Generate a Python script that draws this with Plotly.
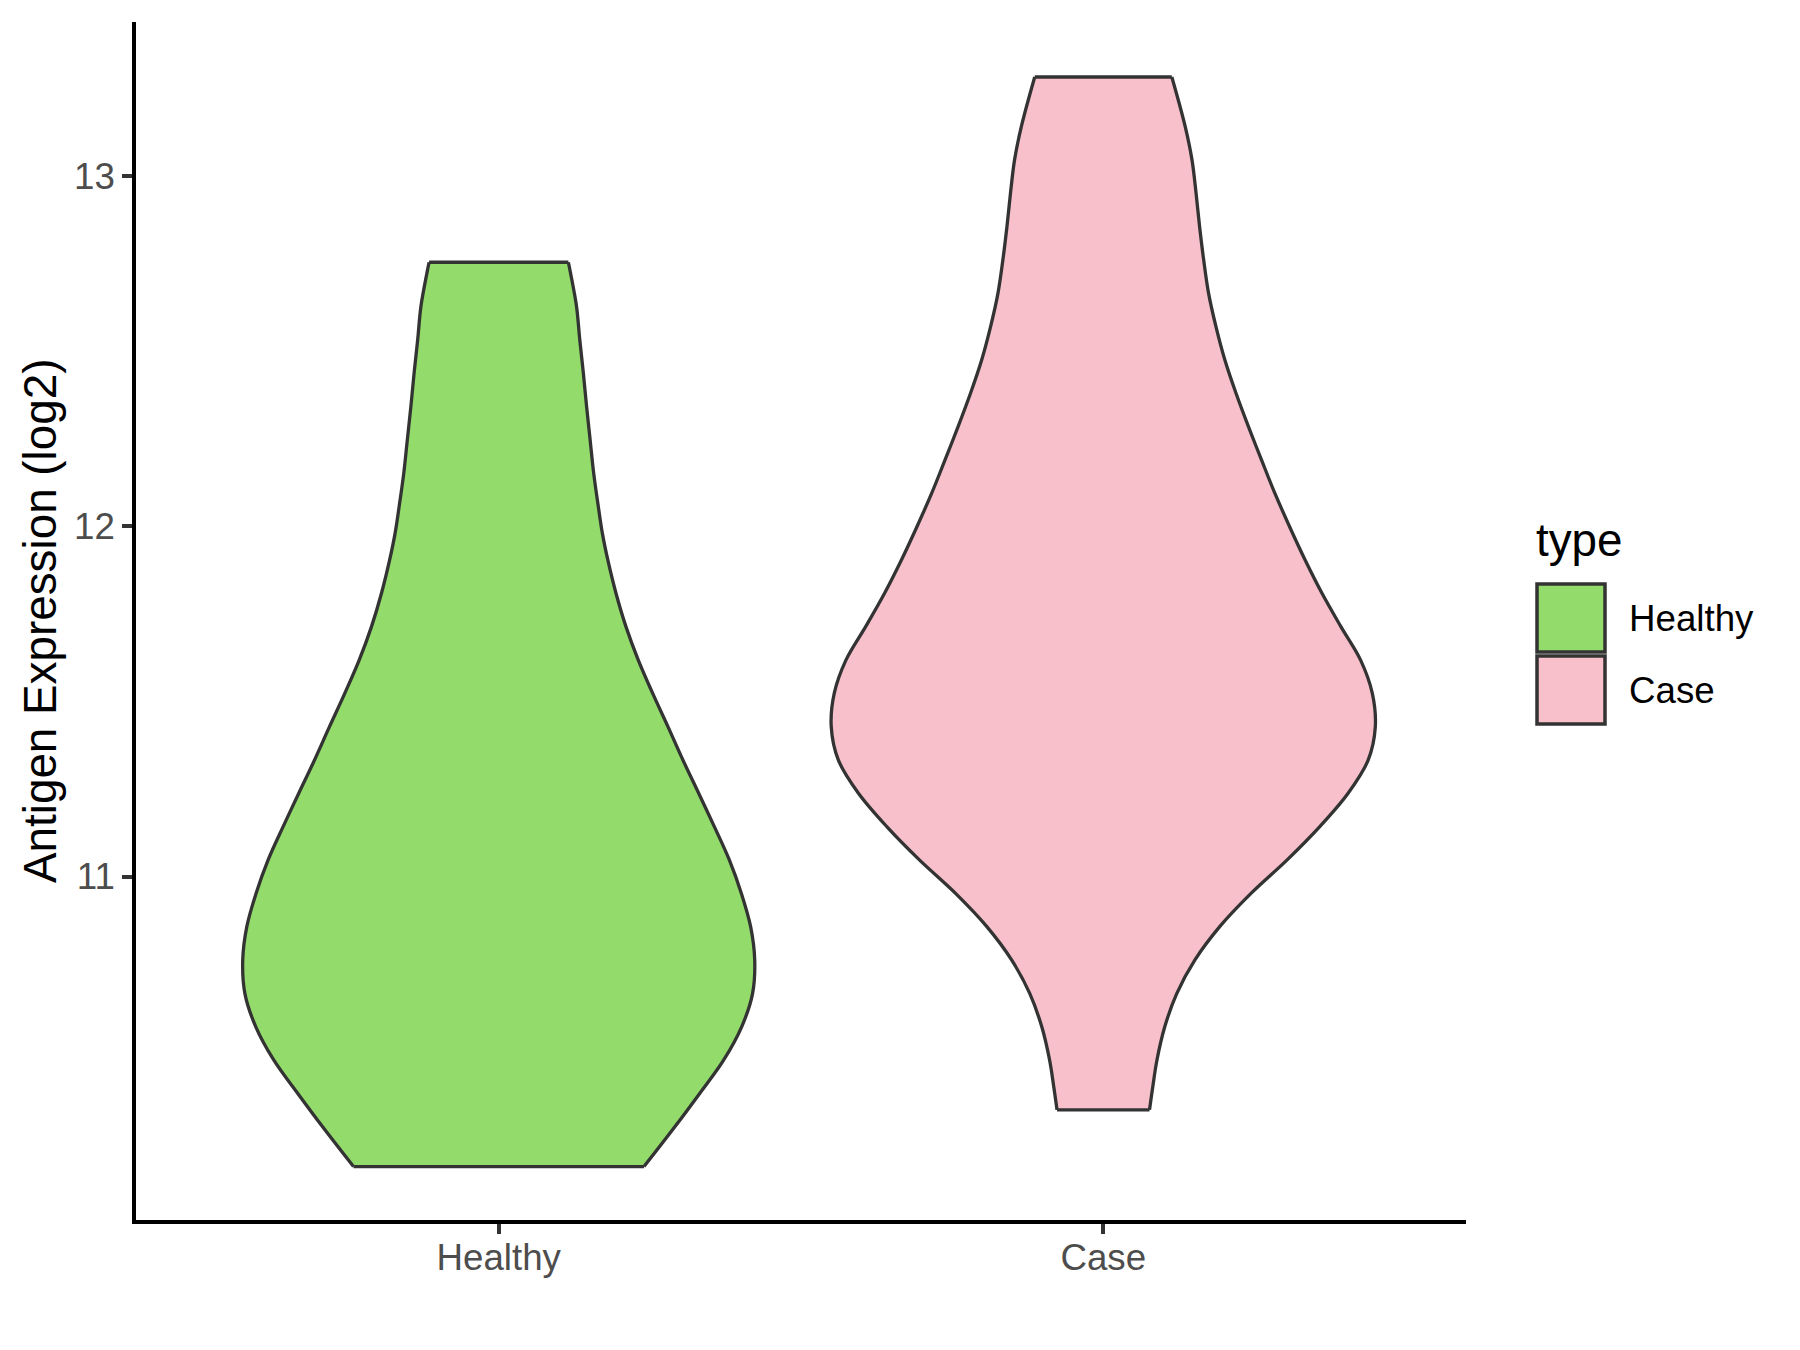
import numpy as np
import plotly.graph_objects as go

# ---------------- data ----------------
categories = ["Healthy", "Case"]
fill_colors = ["#93DB6B", "#F7C0CB"]

# Violin profiles: expression level (log2) and density relative to the densest group
healthy_y = [12.754, 12.723, 12.628, 12.532, 12.438, 12.342, 12.247, 12.152, 12.057,
             11.980, 11.904, 11.809, 11.713, 11.618, 11.523, 11.428, 11.333, 11.238,
             11.142, 11.047, 10.952, 10.857, 10.762, 10.666, 10.571, 10.475, 10.380,
             10.284, 10.172]
healthy_density = [0.256, 0.264, 0.286, 0.298, 0.311, 0.323, 0.336, 0.349, 0.366,
                   0.381, 0.401, 0.431, 0.468, 0.513, 0.566, 0.622, 0.677, 0.735,
                   0.793, 0.848, 0.892, 0.926, 0.941, 0.933, 0.893, 0.826, 0.738,
                   0.646, 0.534]

case_y = [13.283, 13.142, 13.047, 12.952, 12.856, 12.761, 12.666, 12.571, 12.475,
          12.380, 12.284, 12.189, 12.094, 11.999, 11.904, 11.809, 11.713, 11.618,
          11.523, 11.428, 11.333, 11.238, 11.142, 11.047, 10.952, 10.857, 10.762,
          10.666, 10.571, 10.475, 10.400, 10.334]
case_density = [0.252, 0.301, 0.326, 0.341, 0.354, 0.369, 0.387, 0.414, 0.447,
                0.488, 0.534, 0.582, 0.631, 0.685, 0.742, 0.804, 0.874, 0.946,
                0.989, 1.000, 0.974, 0.900, 0.795, 0.675, 0.543, 0.428, 0.337,
                0.270, 0.226, 0.197, 0.182, 0.170]

y_ticks = [11, 12, 13]
y_title = "Antigen Expression (log2)"
legend_title = "type"

profiles = [(healthy_y, healthy_density), (case_y, case_density)]

# ---------------- style ----------------
FONT = "Liberation Sans, Arial, sans-serif"
W, H = 1800, 1350
BODY = 8                                   # default page margin of the html body
L, R, T, B = 136, 1466, 22, 1220          # plot area as seen on screen
HALF_WIDTH = 0.45                          # half of violin width 0.9
OUTLINE = "#333333"

def px_x(p):
    return (p - L) / (R - L)

def px_y(p):
    return (B - p) / (B - T)

fig = go.Figure()

for i, (cat, col, (yy, dd)) in enumerate(zip(categories, fill_colors, profiles)):
    c = i + 1
    yy = np.array(yy)
    hw = HALF_WIDTH * np.array(dd)
    left = c - hw
    right = c + hw
    fig.add_trace(go.Scatter(
        x=np.concatenate([left, right[::-1]]),
        y=np.concatenate([yy, yy[::-1]]),
        mode="lines", fill="toself", fillcolor=col,
        line=dict(width=0, color=col), hoverinfo="skip", showlegend=False))
    ox = list(left) + [None] + list(right) + [None] + [left[0], right[0]] + [None] + [left[-1], right[-1]]
    oy = list(yy) + [None] + list(yy) + [None] + [yy[0], yy[0]] + [None] + [yy[-1], yy[-1]]
    fig.add_trace(go.Scatter(
        x=ox, y=oy, mode="lines", line=dict(color=OUTLINE, width=3.3, shape="spline"),
        connectgaps=False, hoverinfo="skip", showlegend=False))

fig.update_layout(
    width=W, height=H,
    margin=dict(l=L - BODY, r=W - (R - BODY), t=T - BODY, b=H - (B - BODY), pad=0),
    paper_bgcolor="white", plot_bgcolor="white",
    font=dict(family=FONT, color="#4D4D4D"),
    showlegend=False,
)

fig.update_xaxes(
    range=[0.4, 2.6], tickvals=[1, 2], ticktext=categories,
    showgrid=False, zeroline=False,
    showline=True, linecolor="black", linewidth=3.5,
    ticks="outside", ticklen=10, tickwidth=3.5, tickcolor=OUTLINE,
    ticklabelstandoff=-8,
    tickfont=dict(size=36.7, color="#4D4D4D", family=FONT),
)
fig.update_yaxes(
    range=[10.0195, 13.440], tickvals=y_ticks, ticktext=[str(t) for t in y_ticks],
    showgrid=False, zeroline=False,
    showline=True, linecolor="black", linewidth=3.5,
    ticks="outside", ticklen=10, tickwidth=3.5, tickcolor=OUTLINE,
    tickfont=dict(size=36.7, color="#4D4D4D", family=FONT),
)

annotations = [
    dict(text=y_title, xref="paper", yref="paper", x=px_x(40), y=px_y(621),
         xanchor="center", yanchor="middle", textangle=-90, showarrow=False,
         font=dict(size=45.8, color="black", family=FONT)),
    dict(text=legend_title, xref="paper", yref="paper", x=px_x(1534), y=px_y(540),
         xanchor="left", yanchor="middle", showarrow=False,
         font=dict(size=45.8, color="black", family=FONT)),
]
shapes = []
key_top = 584
key_size = 68
key_gap = 4
for i, (cat, col) in enumerate(zip(categories, fill_colors)):
    top = key_top + i * (key_size + key_gap)
    shapes.append(dict(type="rect", xref="paper", yref="paper",
                       x0=px_x(1537), x1=px_x(1537 + key_size),
                       y0=px_y(top + key_size), y1=px_y(top),
                       fillcolor=col, line=dict(color=OUTLINE, width=3.5)))
    annotations.append(dict(text=cat, xref="paper", yref="paper",
                            x=px_x(1627), y=px_y(top + key_size / 2),
                            xanchor="left", yanchor="middle", showarrow=False,
                            font=dict(size=36.7, color="black", family=FONT)))

fig.update_layout(annotations=annotations, shapes=shapes)

fig.write_html("out.html")
